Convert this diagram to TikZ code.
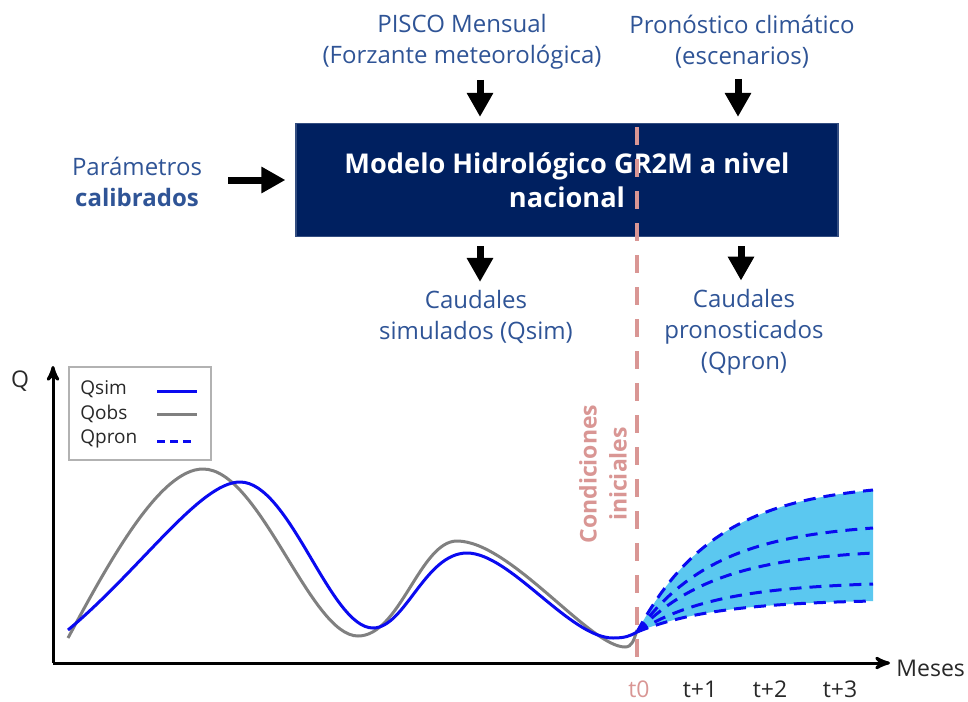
\documentclass[tikz,border=0pt]{standalone}
\usepackage{fontspec}
\setmainfont{Open Sans}
\usetikzlibrary{arrows,arrows.meta,positioning}

\definecolor{azultexto}{RGB}{47,84,150}
\definecolor{azulcaja}{RGB}{0,32,96}
\definecolor{rosa}{RGB}{217,150,148}
\definecolor{celeste}{RGB}{91,200,240}
\definecolor{azulq}{RGB}{10,10,240}
\definecolor{grisq}{RGB}{128,128,128}
\definecolor{textoeje}{RGB}{40,40,40}

\tikzset{
  etiqueta/.style={text=azultexto, align=center, inner sep=0pt,
    font=\fontsize{12}{15.5}\selectfont},
  flecha/.style={line width=3.5pt, -{Triangle[length=12pt,width=12.5pt]}},
  caja/.style={fill=azulcaja, draw=azulcaja!80!white, line width=0.6pt,
    minimum width=271pt, minimum height=56.5pt, inner sep=0pt, text=white, align=center,
    font=\bfseries\fontsize{13.6}{17}\selectfont},
  eje/.style={black, line width=1.5pt, ->, >=stealth'},
  textoeje/.style={text=textoeje, inner sep=0pt, font=\fontsize{11.5}{14}\selectfont},
  ley/.style={text=textoeje, inner sep=0pt, anchor=west, font=\fontsize{9.5}{12}\selectfont},
  qsim/.style={azulq, line width=1.5pt},
  qobs/.style={grisq, line width=1.5pt},
  qpron/.style={azulq, line width=1.5pt, dash pattern=on 6pt off 4pt},
}

\begin{document}
\begin{tikzpicture}[x=0.5pt,y=-0.5pt]
\useasboundingbox (0,0) rectangle (968,701);

% entradas y salidas del modelo
\node[etiqueta] (pisco) at (462,42) {PISCO Mensual\\(Forzante meteorológica)};
\node[etiqueta] (pronostico) at (742,42) {Pronóstico climático\\(escenarios)};
\node[etiqueta] (param) at (137,182) {Parámetros\\\textbf{calibrados}};
\node[caja] (modelo) at (567,180) {Modelo Hidrológico GR2M a nivel\\nacional};
\node[etiqueta] (caudsim) at (476,317) {Caudales\\simulados (Qsim)};
\node[etiqueta] (caudpron) at (744,332) {Caudales\\pronosticados\\(Qpron)};

\draw[flecha, shorten <=5pt, shorten >=3pt] (pisco.south -| 480,0) -- (modelo.north -| 480,0);
\draw[flecha, shorten <=5pt, shorten >=3pt] (pronostico.south -| 738,0) -- (modelo.north -| 738,0);
\draw[flecha, shorten <=13pt, shorten >=5pt] (param.east |- modelo.west) -- (modelo.west);
\draw[flecha, shorten <=4.5pt, shorten >=4pt] (modelo.south -| 480,0) -- (caudsim.north -| 480,0);
\draw[flecha, shorten <=4.5pt, shorten >=4pt] (modelo.south -| 741,0) -- (caudpron.north -| 741,0);

% grafico
\node[ley, draw=gray!60, line width=0.8pt, minimum width=71pt, minimum height=46.5pt] (leyenda) at (68,413.5) {};
\node[ley] (lsim) at (80,389) {Qsim};
\node[ley] (lobs) at (80,414) {Qobs};
\node[ley] (lpron) at (80,439) {Qpron};
\draw[qsim] (157,391) -- (197,391);
\draw[qobs] (157,414) -- (197,414);
\draw[qpron, dash pattern=on 4pt off 2.5pt] (157,441) -- (194,441);

\fill[celeste] plot[domain=0:236, samples=40] ({637+\x},{632-142*(1-exp(-\x/80))/0.9477})
  -- plot[domain=236:0, samples=40] ({637+\x},{632-31*(1-exp(-\x/80))/0.9477}) -- cycle;

\draw[qobs] (68,638) .. controls (110,560) and (160,469) .. (203,469)
  .. controls (260,469) and (310,636) .. (358,636)
  .. controls (400,636) and (420,541) .. (457,541)
  .. controls (510,541) and (590,647) .. (625,647)
  .. controls (632,647) and (634,640) .. (637,630);
\draw[qsim] (68,630) .. controls (140,570) and (200,482) .. (240,482)
  .. controls (290,482) and (330,628) .. (373,628)
  .. controls (405,628) and (425,553) .. (467,553)
  .. controls (510,553) and (570,638) .. (613,638)
  .. controls (625,638) and (630,636) .. (637,632);

\foreach \e in {490,528,553,584,601} {
  \draw[qpron] plot[domain=0:236, samples=40] ({637+\x},{632-(632-\e)*(1-exp(-\x/80))/0.9477});
}

% linea de t0
\draw[rosa, line width=1.8pt, dash pattern=on 9pt off 7pt] (637,127) -- (637,660);
\node[text=rosa, rotate=90, align=center, inner sep=0pt,
  font=\bfseries\fontsize{11.5}{15}\selectfont] (condiciones) at (603,474) {Condiciones\\iniciales};

\draw[eje] (53,663) -- (53,366);
\draw[eje] (53,663) -- (890,663);
\node[textoeje] (ejeq) at (20,381) {Q};
\node[textoeje, anchor=west] (meses) at (896,668) {Meses};
\node[textoeje, text=rosa] (t0) at (639,689) {t0};
\node[textoeje] (t1) at (700,689) {t+1};
\node[textoeje] (t2) at (770,689) {t+2};
\node[textoeje] (t3) at (840,689) {t+3};
\end{tikzpicture}
\end{document}
